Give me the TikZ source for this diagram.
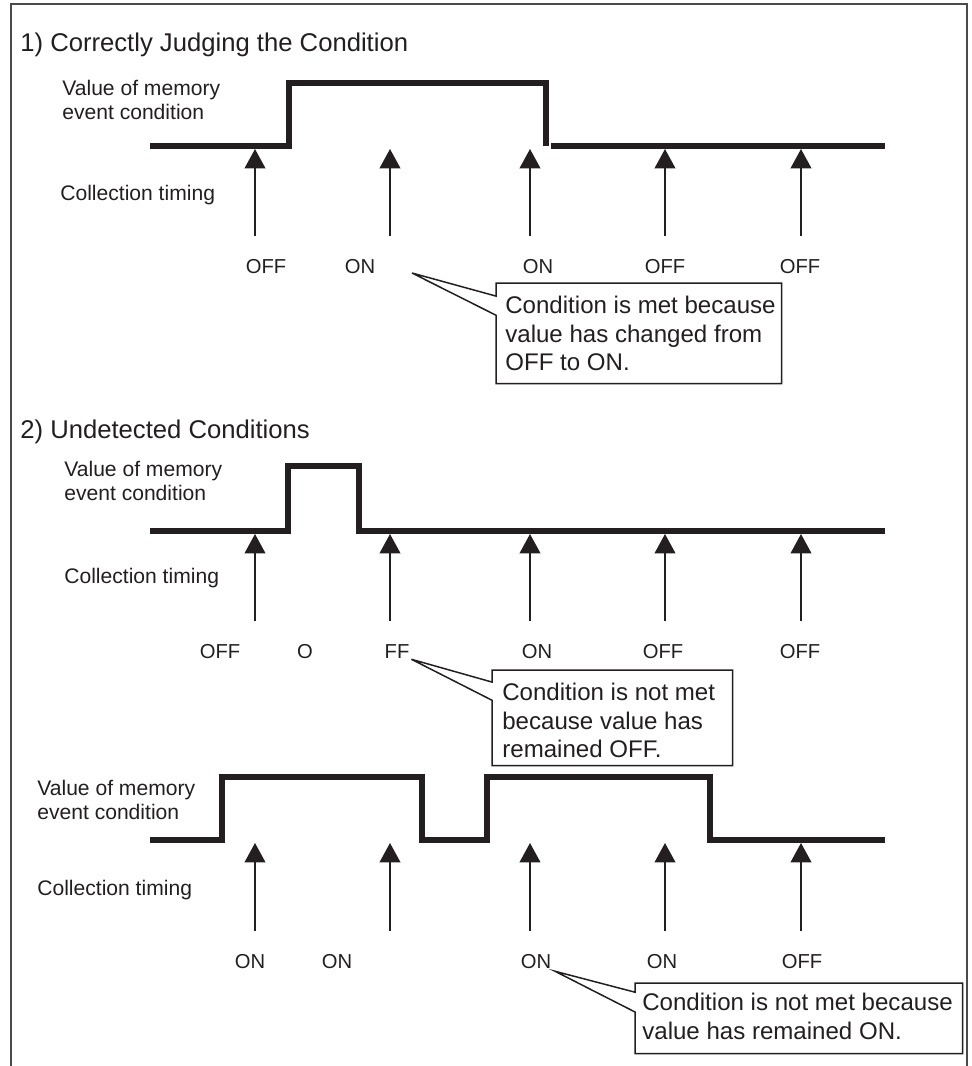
\documentclass[tikz,border=0pt]{standalone}
\usepackage{fontspec}
\setmainfont{Liberation Sans}
\usetikzlibrary{positioning, arrows.meta, calc}
\definecolor{ink}{HTML}{231F20}
\definecolor{framegray}{HTML}{4A4A4A}

\begin{document}
\begin{tikzpicture}[x=0.02cm, y=-0.02cm, font=\fontsize{11.5}{13.6}\selectfont, text=ink,
    sig/.style={ink, line width=2.9pt, line join=miter},
    sample/.style={ink, line width=0.85pt, -{Triangle[length=11pt, width=11.8pt]}},
    lbl/.style={inner sep=0pt},
    side/.style={align=left, anchor=west, inner sep=0pt, font=\fontsize{12}{13.6}\selectfont},
    hdr/.style={anchor=west, inner sep=0pt, font=\fontsize{14.6}{17}\selectfont},
    note/.style={align=left, inner sep=0pt, font=\fontsize{13.7}{16.2}\selectfont},
    notebox/.style={inner sep=0pt, anchor=north west},
    callout/.style={draw=ink, line width=0.85pt, fill=white}]
  \useasboundingbox (0,0) rectangle (972,1066);
  \draw[framegray, line width=1.1pt] (11,1066) -- (11,4) -- (967,4) -- (967,1066);

  \node[hdr] (h1) at (20,45) {1) Correctly Judging the Condition};
  \node[hdr] (h2) at (20,432) {2) Undetected Conditions};

  \node[side] (v1) at (62,100) {Value of memory\\event condition};
  \node[side] (c1) at (60,195) {Collection timing};
  \node[side] (v2) at (64,481) {Value of memory\\event condition};
  \node[side] (c2) at (64,578) {Collection timing};
  \node[side] (v3) at (37,800) {Value of memory\\event condition};
  \node[side] (c3) at (37,890) {Collection timing};

  \draw[sig] (150,146) -- (289,146) -- (289,83) -- (546,83) -- (546,146);
  \draw[sig] (551,146) -- (885,146);
  \draw[sig] (150,531) -- (288,531) -- (288,466) -- (359,466) -- (359,531) -- (885,531);
  \draw[sig] (150,840) -- (222,840) -- (222,777) -- (422,777) -- (422,840) -- (487,840)
    -- (487,777) -- (710,777) -- (710,840) -- (885,840);

  \foreach \r/\yb/\yt in {1/236/149, 2/621/534, 3/931/843}
    \foreach \x [count=\i] in {255,390,530,665,801} {
      \coordinate (s\r-\i) at (\x,\yb);
      \coordinate (e\r-\i) at (\x,\yt);
      \draw[sample] (s\r-\i) -- (e\r-\i);
    }

  \foreach \x/\t [count=\i] in {266/OFF, 360/ON, 538/ON, 665/OFF, 800/OFF}
    \node[lbl] (l1-\i) at (\x,267) {\t};
  \foreach \x/\t [count=\i] in {220/OFF, 305/O, 397/FF, 537/ON, 663/OFF, 800/OFF}
    \node[lbl] (l2-\i) at (\x,652) {\t};
  \foreach \x/\t [count=\i] in {250/ON, 337/ON, 536/ON, 662/ON, 802/OFF}
    \node[lbl] (l3-\i) at (\x,962) {\t};

  \coordinate (p1) at (412,273);
  \coordinate (p2) at ([xshift=1pt]l2-3.south east);
  \coordinate (p3) at ([shift={(2pt,-1pt)}]l3-3.south east);

  \node[notebox, minimum width=5.7cm, minimum height=2cm] (b1) at (496,283) {};
  \draw[callout] (b1.north west) -- (b1.north east) -- (b1.south east) -- (b1.south west)
    -- ($(b1.north west)!0.32!(b1.south west)$) -- (p1)
    -- ($(b1.north west)!0.13!(b1.south west)$) -- cycle;
  \node[note, anchor=north west, below right=0.26cm and 0.18cm of b1.north west] (n1)
    {Condition is met because\\value has changed from\\OFF to ON.};

  \node[notebox, minimum width=4.8cm, minimum height=1.9cm] (b2) at (492,670) {};
  \draw[callout] (b2.north west) -- (b2.north east) -- (b2.south east) -- (b2.south west)
    -- ($(b2.north west)!0.316!(b2.south west)$) -- (p2)
    -- ($(b2.north west)!0.126!(b2.south west)$) -- cycle;
  \node[note, anchor=north west, below right=0.26cm and 0.2cm of b2.north west] (n2)
    {Condition is not met\\because value has\\remained OFF.};

  \node[notebox, minimum width=6.54cm, minimum height=1.4cm] (b3) at (635,983) {};
  \draw[callout] (b3.north west) -- (b3.north east) -- (b3.south east) -- (b3.south west)
    -- ($(b3.north west)!0.41!(b3.south west)$) -- (p3)
    -- ($(b3.north west)!0.13!(b3.south west)$) -- cycle;
  \node[note, anchor=north west, below right=0.2cm and 0.14cm of b3.north west] (n3)
    {Condition is not met because\\value has remained ON.};
\end{tikzpicture}
\end{document}
